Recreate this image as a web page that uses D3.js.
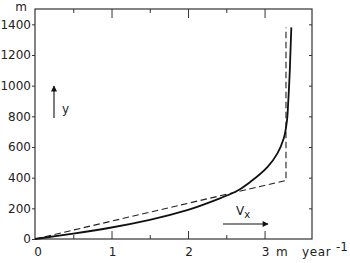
<!DOCTYPE html>
<html>
<head>
<meta charset="utf-8">
<script src="https://cdn.jsdelivr.net/npm/d3@7"></script>
<style>
  body { margin: 0; background: #fff; }
  svg text { font-family: "DejaVu Sans", sans-serif; font-size: 12px; fill: #222; }
</style>
</head>
<body>
<div class="chartContainer"></div>
<script>
// velocity (m/yr) vs height (m)
var solidVx = [0, 0.5, 1.0, 1.5, 2.0, 2.38, 2.62, 2.82, 3.04, 3.17, 3.25, 3.29, 3.31, 3.33, 3.35];
var solidY  = [0, 35, 75, 125, 190, 258, 308, 375, 470, 560, 655, 760, 900, 1100, 1380];

var dashVx = [0, 3.28, 3.28];
var dashY  = [0, 382, 1380];

var yTicks = [0, 200, 400, 600, 800, 1000, 1200, 1400];
var xMajor = [1, 2, 3];
var xMinor = [0.5, 1.5, 2.5];

var W = 350, H = 263;
var x = d3.scaleLinear().domain([0, 3.62]).range([35, 312]);
var y = d3.scaleLinear().domain([0, 1500]).range([239, 9]);

var svg = d3.select(".chartContainer")
    .append("svg")
    .attr("width", W)
    .attr("height", H);

// frame
svg.append("rect")
    .attr("x", x(0)).attr("y", y(1500))
    .attr("width", x(3.62) - x(0)).attr("height", y(0) - y(1500))
    .attr("fill", "none").attr("stroke", "#333").attr("stroke-width", 1.2);

// left axis
var leftAxis = svg.append("g")
    .attr("transform", "translate(" + x(0) + ",0)")
    .call(d3.axisLeft(y).tickValues(yTicks).tickSize(3).tickPadding(1).tickFormat(d3.format("d")));
leftAxis.select(".domain").remove();

// right axis (inside ticks, no labels)
var rightAxis = svg.append("g")
    .attr("transform", "translate(" + x(3.62) + ",0)")
    .call(d3.axisLeft(y).tickValues(yTicks.slice(1)).tickSize(3).tickFormat(""));
rightAxis.select(".domain").remove();

// bottom axis major / minor, ticks inward
var bottomAxis = svg.append("g")
    .attr("transform", "translate(0," + y(0) + ")")
    .call(d3.axisTop(x).tickValues(xMajor).tickSize(8).tickFormat(""));
bottomAxis.select(".domain").remove();
var bottomMinor = svg.append("g")
    .attr("transform", "translate(0," + y(0) + ")")
    .call(d3.axisTop(x).tickValues(xMinor).tickSize(4).tickFormat(""));
bottomMinor.select(".domain").remove();

// top axis ticks inward
var topAxis = svg.append("g")
    .attr("transform", "translate(0," + y(1500) + ")")
    .call(d3.axisBottom(x).tickValues(xMajor).tickSize(9).tickFormat(""));
topAxis.select(".domain").remove();
var topMinor = svg.append("g")
    .attr("transform", "translate(0," + y(1500) + ")")
    .call(d3.axisBottom(x).tickValues(xMinor).tickSize(4).tickFormat(""));
topMinor.select(".domain").remove();

svg.selectAll("g line").attr("stroke", "#333");
svg.selectAll("g text")
    .attr("font-size", null).attr("font-family", null).attr("fill", null);

// bottom labels
svg.selectAll(".xlab")
    .data([0].concat(xMajor))
    .enter()
    .append("text")
    .attr("class", "xlab")
    .attr("x", function (d) { return x(d) + (d === 0 ? 3 : 1); })
    .attr("y", 256)
    .attr("text-anchor", "middle")
    .text(function (d) { return d; });

// curves
var line = d3.line()
    .x(function (d) { return x(d[0]); })
    .y(function (d) { return y(d[1]); });

svg.append("path")
    .datum(dashVx.map(function (v, i) { return [v, dashY[i]]; }))
    .attr("d", line)
    .attr("fill", "none")
    .attr("stroke", "#222")
    .attr("stroke-width", 1.1)
    .attr("stroke-dasharray", "6.5,3.5");

svg.append("path")
    .datum(solidVx.map(function (v, i) { return [v, solidY[i]]; }))
    .attr("d", line.curve(d3.curveMonotoneY))
    .attr("fill", "none")
    .attr("stroke", "#111")
    .attr("stroke-width", 1.8);

// labels
svg.append("text").attr("x", 21).attr("y", 11).attr("text-anchor", "middle").text("m");

svg.append("text").attr("x", 276).attr("y", 256).text("m");
svg.append("text").attr("x", 302).attr("y", 256).attr("letter-spacing", "0.6px").text("year");
svg.append("text").attr("x", 336).attr("y", 251).attr("font-size", "10px").text("-1");

// arrows
var defs = svg.append("defs");
defs.append("marker")
    .attr("id", "ah")
    .attr("viewBox", "0 0 10 10")
    .attr("refX", 9).attr("refY", 5)
    .attr("markerWidth", 9).attr("markerHeight", 6)
    .attr("markerUnits", "userSpaceOnUse")
    .attr("orient", "auto")
    .append("path").attr("d", "M0,0L10,5L0,10Z").attr("fill", "#111");

svg.append("line")
    .attr("x1", 54).attr("y1", 118).attr("x2", 54).attr("y2", 86)
    .attr("stroke", "#111").attr("stroke-width", 1.1)
    .attr("marker-end", "url(#ah)");
svg.append("text").attr("x", 62).attr("y", 113).attr("font-size", "13px").text("y");

svg.append("line")
    .attr("x1", 223).attr("y1", 224).attr("x2", 268).attr("y2", 224)
    .attr("stroke", "#111").attr("stroke-width", 1.1)
    .attr("marker-end", "url(#ah)");
var vx = svg.append("text").attr("x", 236).attr("y", 215).attr("font-size", "13px");
vx.append("tspan").text("V");
vx.append("tspan").attr("dy", 3).attr("font-size", "10px").text("x");
</script>
</body>
</html>
